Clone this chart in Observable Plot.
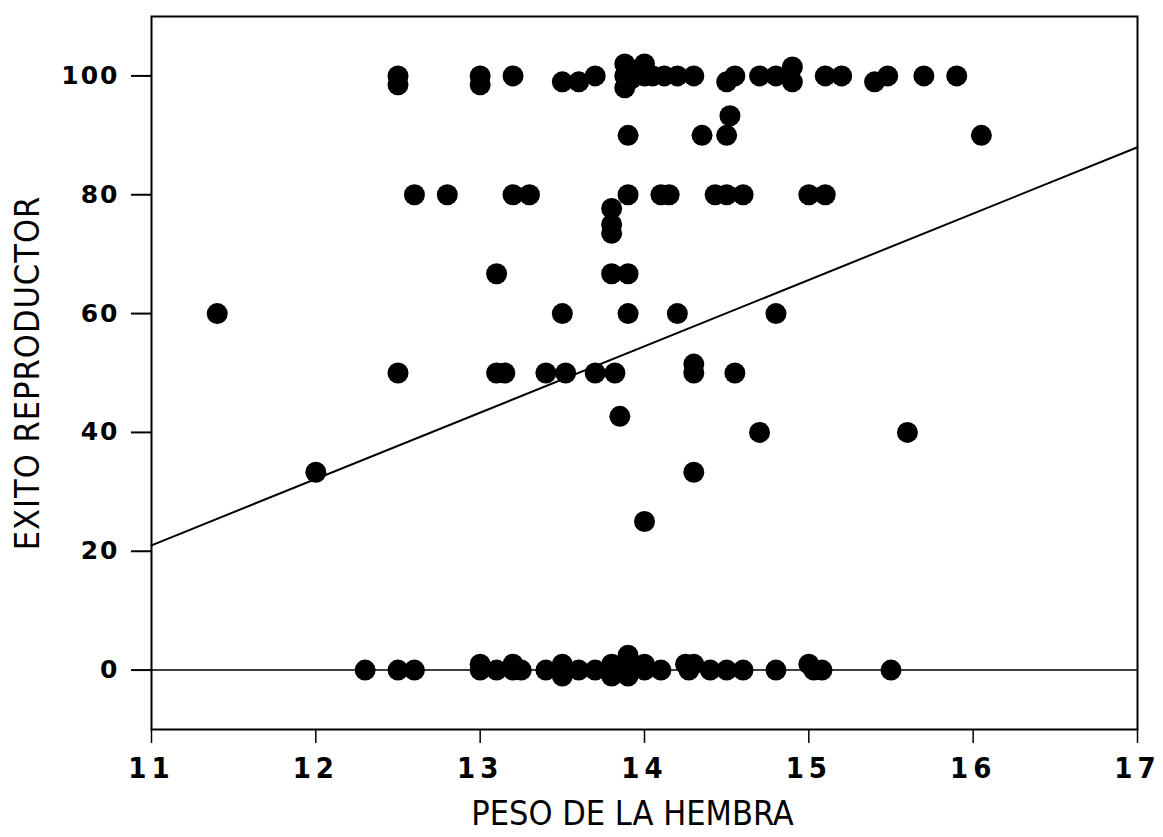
<!DOCTYPE html>
<html>
<head>
<meta charset="utf-8">
<script src="https://cdn.jsdelivr.net/npm/d3@7"></script>
<script src="https://cdn.jsdelivr.net/npm/@observablehq/plot@0.6"></script>
<style>
  html, body { margin: 0; padding: 0; background: #fff; }
  #chart svg { display: block; }
</style>
</head>
<body>
<div id="chart"></div>
<script>
// Peso de la hembra (x) and éxito reproductor (y)
const peso = [
  12.5, 12.5, 13.0, 13.0, 13.2, 13.5, 13.6, 13.7,
  13.88, 13.88, 13.88, 13.95, 14.0, 14.0, 13.92,
  14.05, 14.12, 14.2, 14.3,
  14.5, 14.55, 14.7, 14.8, 14.9, 14.9, 14.88,
  15.1, 15.2, 15.4, 15.48, 15.7, 15.9,
  16.05, 14.52, 14.35, 14.5, 13.9,
  12.6, 12.8, 13.2, 13.3, 13.9, 14.1, 14.15, 14.43, 14.5, 14.6, 15.0, 15.1,
  13.8, 13.8, 13.8,
  13.1, 13.8, 13.9,
  11.4, 13.5, 13.9, 14.2, 14.8,
  12.5, 13.1, 13.15, 13.4, 13.52, 13.7, 13.82, 14.3, 14.3, 14.55,
  13.85, 14.7, 15.6, 14.3, 12.0, 14.0,
  12.3, 12.5, 12.6, 13.0, 13.0, 13.1, 13.2, 13.2, 13.25, 13.4, 13.5, 13.5,
  13.6, 13.7, 13.8, 13.8, 13.9, 13.9, 13.9, 14.0, 14.0, 14.1, 14.25, 14.3,
  14.27, 14.4, 14.5, 14.6, 14.8, 15.0, 15.03, 15.08, 15.5
];
const exito = [
  100, 98.5, 100, 98.5, 100, 99, 99, 100,
  102, 100, 98, 101, 102, 100, 99.5,
  100, 100, 100, 100,
  99, 100, 100, 100, 101.5, 99, 100,
  100, 100, 99, 100, 100, 100,
  90, 93.3, 90, 90, 90,
  80, 80, 80, 80, 80, 80, 80, 80, 80, 80, 80, 80,
  77.7, 75, 73.5,
  66.7, 66.7, 66.7,
  60, 60, 60, 60, 60,
  50, 50, 50, 50, 50, 50, 50, 51.5, 50, 50,
  42.7, 40, 40, 33.3, 33.3, 25,
  0, 0, 0, 0, 1, 0, 0, 1, 0, 0, 1, -1,
  0, 0, 1, -1, 2.5, 0, -1, 1, 0, 0, 1, 1,
  0, 0, 0, 0, 0, 1, 0, 0, 0
];
// fitted regression line end points
const lineX = [11, 17];
const lineY = [21, 88];
const xTicks = [11, 12, 13, 14, 15, 16, 17];
const yTicks = [0, 20, 40, 60, 80, 100];
const xTitle = "PESO DE LA HEMBRA";
const yTitle = "EXITO REPRODUCTOR";

const points = peso.map((p, i) => ({peso: p, exito: exito[i]}));
const line = lineX.map((x, i) => ({x, y: lineY[i]}));

const narrow = "'Liberation Sans Narrow', 'DejaVu Sans Condensed', sans-serif";

const chart = Plot.plot({
  width: 1163,
  height: 837,
  marginLeft: 151,
  marginRight: 26,
  marginTop: 16,
  marginBottom: 108,
  x: {domain: [11, 17]},
  y: {domain: [-10, 110]},
  style: {background: "#fff", color: "#000"},
  marks: [
    Plot.frame({stroke: "#000", strokeWidth: 2}),
    Plot.ruleY([0], {stroke: "#000", strokeWidth: 1.5}),
    Plot.line(line, {x: "x", y: "y", stroke: "#000", strokeWidth: 2}),
    Plot.dot(points, {x: "peso", y: "exito", r: 10.5, fill: "#000", stroke: "none", symbol: "circle"}),
    Plot.axisY({ticks: yTicks, tickSize: 20, tickPadding: 12, strokeWidth: 2, label: null,
      tickFormat: d => d}),
    Plot.axisX({ticks: xTicks, tickSize: 14, tickPadding: 14, strokeWidth: 1.5, label: null,
      tickFormat: d => d}),
    Plot.text([xTitle], {text: d => d, frameAnchor: "bottom", dy: 95, dx: -12, fill: "#000"}),
    Plot.text([yTitle], {text: d => d, frameAnchor: "left", dx: -123, rotate: -90,
      textAnchor: "middle", fill: "#000"})
  ]
});
// tick-label and title fonts
chart.querySelectorAll('g[aria-label^="y-axis"] text').forEach(t => {
  t.style.fontFamily = "'DejaVu Sans', sans-serif";
  t.style.fontSize = "25px";
  t.style.fontWeight = "bold";
  t.style.letterSpacing = "2px";
});
chart.querySelectorAll('g[aria-label^="x-axis"] text').forEach(t => {
  t.style.fontFamily = narrow;
  t.style.fontSize = "29px";
  t.style.fontWeight = "600";
  t.style.letterSpacing = "5px";
});
chart.querySelectorAll('g[aria-label="text"] text').forEach((t, i) => {
  t.style.fontFamily = narrow;
  t.style.fontSize = "34px";
  t.style.letterSpacing = i === 0 ? "0px" : "1px";
});
document.getElementById("chart").appendChild(chart);
</script>
</body>
</html>
